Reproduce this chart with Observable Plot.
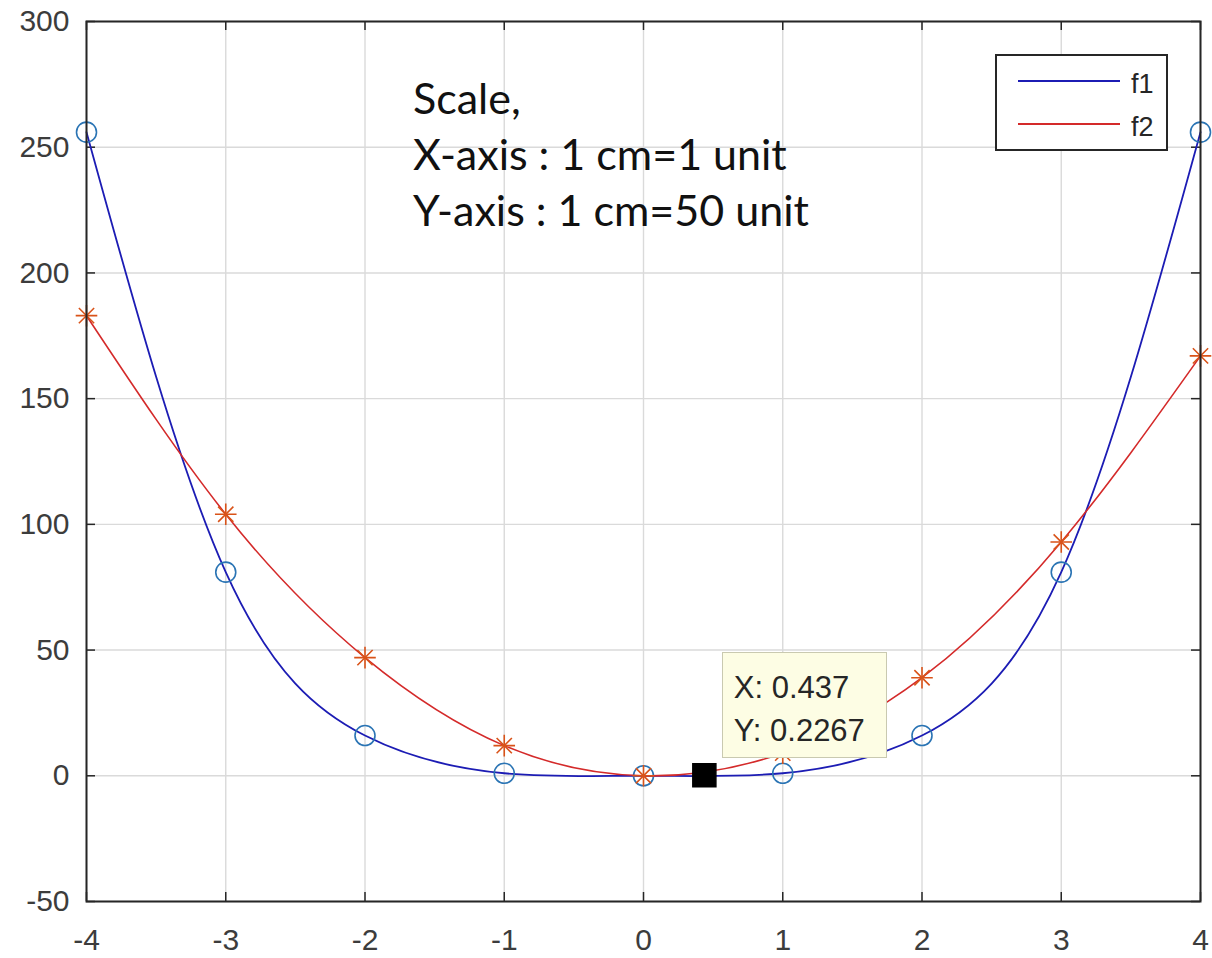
<!DOCTYPE html>
<html>
<head>
<meta charset="utf-8">
<script src="https://cdn.jsdelivr.net/npm/d3@7"></script>
<script src="https://cdn.jsdelivr.net/npm/@observablehq/plot@0.6"></script>
<style>
  body { margin: 0; background: #fff; }
  #wrap { position: relative; width: 1212px; height: 958px; overflow: hidden; background: #fff; }
  #legend { position: absolute; left: 995px; top: 54px; width: 173px; height: 97px;
            border: 2px solid #262626; background: #fff; box-sizing: border-box;
            font-family: "Liberation Sans", Arial, sans-serif; font-size: 27px; color: #262626; }
  #legend .item { position: absolute; left: 0; height: 30px; width: 170px; }
  #legend svg { position: absolute; left: 20px; top: 0; }
  #legend span { position: absolute; left: 134px; top: 2px; line-height: 30px; }
  #tipbox { position: absolute; width: 165px; height: 106px; box-sizing: border-box;
            background: #fdfde4; border: 1.5px solid #c9c9b0;
            font-family: "Liberation Sans", Arial, sans-serif; font-size: 31px; color: #262626;
            line-height: 43px; padding: 13px 0 0 11px; white-space: pre; }
  #note { position: absolute; left: 413px; top: 70px; font-family: Lato, "Open Sans", sans-serif;
          font-size: 43px; line-height: 56px; color: #111; white-space: pre; }
</style>
</head>
<body>
<div id="wrap"></div>
<script>
// ---- data ----
const xValues = [-4, -3, -2, -1, 0, 1, 2, 3, 4];
const f1Values = [256, 81, 16, 1, 0, 1, 16, 81, 256];
const f2Values = [183, 104, 47, 12, 0, 9, 39, 93, 167];
const xTicks = [-4, -3, -2, -1, 0, 1, 2, 3, 4];
const yTicks = [-50, 0, 50, 100, 150, 200, 250, 300];
const seriesNames = ["f1", "f2"];
const lineColors = ["#1c1cb4", "#d42a2a"];
const markerColors = ["#2a74b4", "#d95319"];
const dataTip = [{x: 0.437, y: 0.2267}];
const noteLines = ["Scale,", "X-axis : 1 cm=1 unit", "Y-axis : 1 cm=50 unit"];

const f1 = xValues.map((x, i) => ({x, y: f1Values[i]}));
const f2 = xValues.map((x, i) => ({x, y: f2Values[i]}));

const xMin = xTicks[0], xMax = xTicks[xTicks.length - 1];
const yMin = yTicks[0], yMax = yTicks[yTicks.length - 1];

const axisColor = "#262626";
const labelColor = "#3c3c3c";
const tickLen = 9;

const plot = Plot.plot({
  width: 1212,
  height: 958,
  marginLeft: 86,
  marginRight: 12,
  marginTop: 21,
  marginBottom: 57,
  style: {fontFamily: "'Liberation Sans', Arial, sans-serif", fontSize: "30px", background: "#fff", overflow: "visible"},
  x: {domain: [xMin, xMax]},
  y: {domain: [yMin, yMax]},
  marks: [
    Plot.gridX(xTicks, {stroke: "#dadada", strokeOpacity: 1, strokeWidth: 1.4}),
    Plot.gridY(yTicks, {stroke: "#dadada", strokeOpacity: 1, strokeWidth: 1.4}),
    // tick labels
    Plot.axisX(xTicks, {anchor: "bottom", tickSize: 0, tickPadding: 27, fill: labelColor, label: null, tickFormat: d => String(d)}),
    Plot.axisY(yTicks, {anchor: "left", tickSize: 0, tickPadding: 17, fill: labelColor, label: null, tickFormat: d => String(d)}),
    // inward tick marks on all four sides
    Plot.ruleY(yTicks, {y: d => d, x1: xMin, x2: xMin, insetRight: -tickLen, stroke: axisColor, strokeWidth: 1.5}),
    Plot.ruleY(yTicks, {y: d => d, x1: xMax, x2: xMax, insetLeft: -tickLen, stroke: axisColor, strokeWidth: 1.5}),
    Plot.ruleX(xTicks, {x: d => d, y1: yMin, y2: yMin, insetTop: -tickLen, stroke: axisColor, strokeWidth: 1.5}),
    Plot.ruleX(xTicks, {x: d => d, y1: yMax, y2: yMax, insetBottom: -tickLen, stroke: axisColor, strokeWidth: 1.5}),
    // f1
    Plot.line(f1, {x: "x", y: "y", curve: "natural", stroke: lineColors[0], strokeWidth: 1.8}),
    Plot.dot(f1, {x: "x", y: "y", r: 10, stroke: markerColors[0], strokeWidth: 1.6, fill: "none"}),
    // f2
    Plot.line(f2, {x: "x", y: "y", curve: "natural", stroke: lineColors[1], strokeWidth: 1.6}),
    Plot.dot(f2, {x: "x", y: "y", r: 7, symbol: "plus", stroke: markerColors[1], strokeWidth: 1.6}),
    Plot.dot(f2, {x: "x", y: "y", r: 7, symbol: "times", stroke: markerColors[1], strokeWidth: 1.6}),
    // data tip
    Plot.ruleX(dataTip, {x: "x", y1: "y", stroke: "#a2b520", strokeWidth: 3, dx: -6, insetBottom: -9}),
    Plot.dot(dataTip, {x: "x", y: "y", r: 13, symbol: "square", fill: "#000", stroke: "#000"}),
    Plot.frame({stroke: axisColor, strokeWidth: 2})
  ]
});

const wrap = document.getElementById("wrap");
wrap.appendChild(plot);

// annotation
const note = document.createElement("div");
note.id = "note";
note.textContent = noteLines.join("\n");
wrap.appendChild(note);

// data tip box, anchored to the data point through the plot's scales
const px = plot.scale("x").apply(dataTip[0].x);
const py = plot.scale("y").apply(dataTip[0].y);
const box = document.createElement("div");
box.id = "tipbox";
box.style.left = (px + 18) + "px";
box.style.top = (py - 123) + "px";
box.textContent = `X: ${dataTip[0].x}\nY: ${dataTip[0].y}`;
wrap.appendChild(box);

// legend
const legend = document.createElement("div");
legend.id = "legend";
seriesNames.forEach((name, i) => {
  const item = document.createElement("div");
  item.className = "item";
  item.style.top = (11 + i * 43) + "px";
  item.innerHTML = `<svg width="104" height="30"><line x1="1" x2="103" y1="14" y2="14" stroke="${lineColors[i]}" stroke-width="1.8"/></svg><span>${name}</span>`;
  legend.appendChild(item);
});
wrap.appendChild(legend);
</script>
</body>
</html>
